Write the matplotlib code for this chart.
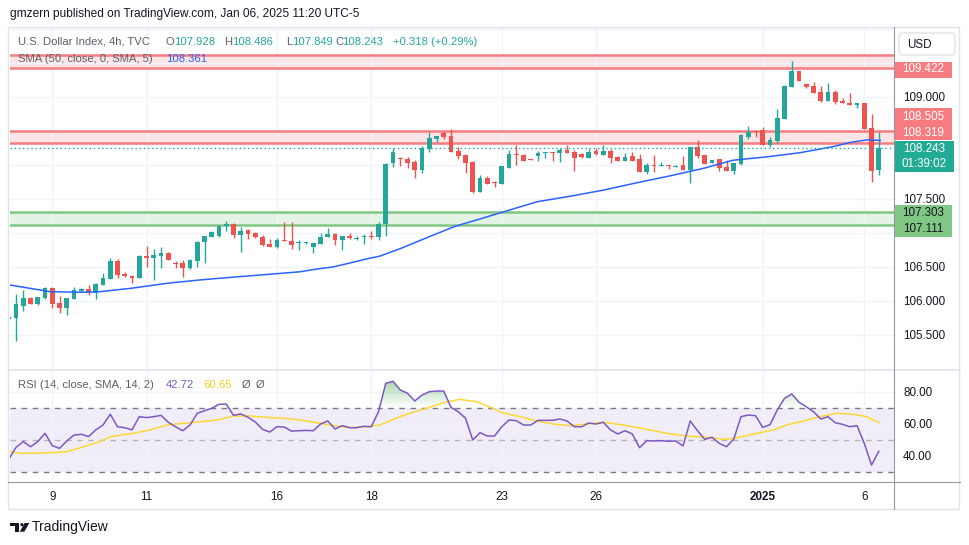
import numpy as np
import matplotlib.pyplot as plt
from matplotlib.patches import Rectangle, FancyBboxPatch, Polygon, Circle
from matplotlib.path import Path

plt.rcParams['font.family'] = ['Liberation Sans', 'DejaVu Sans']

TEAL = '#26A69A'
RED = '#EF5350'
GRID = '#F0F3FA'
TXT = '#131722'
GREY = '#5D606B'

# 4h candles, DXY, Dec 6 2024 -> Jan 6 2025
opens = [105.731, 105.754, 105.926, 106.049, 105.956, 106.044, 106.196, 105.971, 105.902, 106.034,
         106.152, 106.177, 106.122, 106.240, 106.328, 106.588, 106.397, 106.368, 106.338, 106.657,
         106.632, 106.662, 106.706, 106.563, 106.559, 106.485, 106.593, 106.868, 106.946, 106.956,
         107.099, 107.132, 106.975, 107.044, 107.005, 106.937, 106.834, 106.799, 106.897, 106.882,
         106.848, 106.848, 106.799, 106.843, 106.946, 106.985, 106.897, 106.956, 106.912, 106.946,
         106.960, 106.946, 107.128, 108.025, 108.103, 108.093, 108.044, 107.927, 108.240, 108.382,
         108.466, 108.426, 108.202, 108.152, 108.049, 107.607, 107.809, 107.740, 107.725, 107.960,
         108.166, 108.147, 108.088, 108.137, 108.181, 108.196, 108.181, 108.221, 108.191, 108.162,
         108.107, 108.202, 108.152, 108.206, 108.118, 108.059, 108.132, 108.084, 107.897, 108.000,
         107.990, 108.005, 107.971, 108.000, 107.927, 108.260, 108.143, 108.034, 108.084, 107.971,
         107.916, 108.015, 108.412, 108.496, 108.515, 108.299, 108.358, 108.681, 109.151, 109.382,
         109.191, 109.162, 109.074, 108.946, 109.074, 108.946, 108.916, 108.878, 108.916, 108.549,
         107.928]
highs = [105.794, 106.103, 106.162, 106.059, 106.063, 106.210, 106.210, 106.074, 106.044, 106.210,
         106.196, 106.231, 106.260, 106.412, 106.637, 106.618, 106.426, 106.387, 106.672, 106.809,
         106.760, 106.799, 106.721, 106.593, 106.603, 106.613, 106.882, 106.956, 107.029, 107.118,
         107.172, 107.142, 107.093, 107.063, 107.015, 106.971, 106.912, 106.922, 107.162, 107.162,
         106.897, 106.872, 106.853, 106.996, 107.078, 106.996, 106.956, 106.996, 106.956, 106.985,
         107.029, 107.157, 108.034, 108.254, 108.122, 108.122, 108.074, 108.284, 108.490, 108.426,
         108.505, 108.529, 108.260, 108.162, 108.059, 107.849, 107.838, 107.770, 107.985, 108.221,
         108.294, 108.157, 108.088, 108.206, 108.191, 108.196, 108.246, 108.294, 108.221, 108.176,
         108.231, 108.246, 108.294, 108.231, 108.132, 108.181, 108.196, 108.166, 108.025, 108.147,
         108.044, 108.005, 108.005, 108.132, 108.260, 108.368, 108.143, 108.074, 108.084, 108.074,
         108.034, 108.456, 108.574, 108.496, 108.554, 108.407, 108.824, 109.181, 109.529, 109.382,
         109.210, 109.225, 109.166, 109.201, 109.103, 108.981, 109.063, 108.916, 108.916, 108.750,
         108.486]
lows = [105.706, 105.412, 105.857, 105.960, 105.941, 106.025, 105.902, 105.828, 105.794, 106.034,
        106.137, 106.088, 106.029, 106.240, 106.328, 106.343, 106.357, 106.269, 106.338, 106.496,
        106.313, 106.490, 106.603, 106.490, 106.357, 106.475, 106.504, 106.554, 106.946, 106.946,
        107.034, 106.931, 106.725, 106.916, 106.927, 106.809, 106.799, 106.784, 106.887, 106.769,
        106.754, 106.834, 106.701, 106.843, 106.946, 106.824, 106.750, 106.907, 106.897, 106.834,
        106.907, 106.897, 106.956, 107.975, 107.985, 107.952, 107.813, 107.878, 108.196, 108.338,
        108.387, 108.196, 108.093, 107.887, 107.593, 107.607, 107.725, 107.681, 107.725, 107.960,
        108.000, 108.054, 108.069, 108.063, 108.107, 108.059, 108.044, 108.172, 107.912, 108.107,
        108.107, 108.152, 108.152, 108.034, 108.059, 108.059, 108.059, 107.897, 107.868, 107.902,
        107.990, 107.941, 107.971, 107.927, 107.740, 108.099, 108.019, 108.025, 107.912, 107.916,
        107.868, 108.000, 108.387, 108.416, 108.299, 108.269, 108.319, 108.681, 109.151, 109.240,
        109.137, 109.063, 108.926, 108.946, 108.897, 108.907, 108.878, 108.834, 108.529, 107.755,
        107.849]
closes = [105.769, 105.956, 106.044, 105.960, 106.054, 106.191, 105.960, 105.902, 106.044, 106.162,
          106.172, 106.118, 106.250, 106.338, 106.588, 106.382, 106.368, 106.343, 106.662, 106.632,
          106.676, 106.706, 106.607, 106.549, 106.490, 106.603, 106.868, 106.956, 107.010, 107.103,
          107.132, 106.975, 107.029, 106.985, 106.937, 106.824, 106.799, 106.897, 106.887, 106.828,
          106.857, 106.857, 106.853, 106.941, 106.990, 106.901, 106.956, 106.922, 106.927, 106.960,
          106.946, 107.132, 108.015, 108.187, 108.084, 108.025, 107.927, 108.250, 108.397, 108.426,
          108.416, 108.196, 108.137, 108.034, 107.603, 107.809, 107.725, 107.731, 107.985, 108.166,
          108.147, 108.059, 108.074, 108.181, 108.191, 108.181, 108.221, 108.172, 108.107, 108.122,
          108.191, 108.166, 108.206, 108.107, 108.059, 108.118, 108.059, 107.897, 108.000, 107.990,
          108.005, 107.990, 107.985, 107.927, 108.260, 108.137, 108.019, 108.074, 107.960, 107.916,
          108.034, 108.441, 108.490, 108.481, 108.299, 108.368, 108.691, 109.162, 109.382, 109.240,
          109.151, 109.063, 108.946, 109.074, 108.931, 108.907, 108.878, 108.916, 108.529, 107.916,
          108.243]

# SMA(50) (candle index, value)
sma_idx = [0.17, 5.7, 10.2, 12.6, 17.1, 21.8, 26.4, 30.9, 35.6, 40.2, 42.5, 44.7, 47.1, 49.4, 51.2,
           54.0, 58.1, 61.6, 64.5, 68.2, 72.9, 77.4, 82.0, 86.7, 91.2, 95.8, 99.9, 104.6, 109.1,
           113.7, 116.0, 118.4, 120.2]
sma_vals = [106.235, 106.137, 106.128, 106.137, 106.19, 106.26, 106.31, 106.35, 106.39, 106.43,
            106.47, 106.50, 106.56, 106.62, 106.66, 106.77, 106.95, 107.10, 107.19, 107.31, 107.46,
            107.54, 107.63, 107.74, 107.84, 107.95, 108.07, 108.12, 108.18, 108.27, 108.33, 108.37,
            108.361]

rsi = [37.7, 45.2, 48.8, 45.6, 48.8, 54.0, 46.3, 44.6, 49.2, 52.9,
       53.4, 51.9, 56.1, 59.2, 65.9, 58.1, 57.5, 56.1, 64.4, 63.8,
       64.4, 65.2, 60.9, 58.1, 55.6, 59.2, 66.5, 68.1, 69.6, 72.1,
       72.3, 65.2, 66.1, 64.0, 61.1, 56.5, 54.8, 58.1, 57.9, 55.4,
       55.6, 55.8, 55.6, 59.8, 61.7, 56.7, 58.8, 57.5, 57.5, 58.4,
       58.1, 67.5, 85.2, 86.5, 81.1, 79.0, 74.2, 77.9, 80.0, 80.4,
       80.4, 70.2, 67.5, 63.4, 49.8, 54.4, 52.3, 52.3, 58.1, 62.3,
       61.9, 59.2, 59.2, 62.1, 62.1, 62.1, 62.9, 61.7, 58.1, 58.1,
       60.4, 59.8, 60.9, 56.1, 53.6, 55.6, 53.6, 45.0, 49.4, 49.2,
       49.4, 49.0, 49.2, 46.1, 61.7, 55.6, 50.2, 51.5, 47.7, 45.6,
       50.4, 64.4, 65.4, 65.0, 57.7, 59.4, 68.6, 75.9, 78.6, 73.4,
       70.6, 67.5, 62.9, 64.4, 60.6, 59.6, 58.1, 58.8, 47.7, 34.2,
       42.72]

rsi_sma_idx = [0.17, 1.55, 3.4, 5.7, 8.0, 10.3, 12.6, 14.0, 17.2, 19.5, 21.8, 24.1, 26.4, 28.7,
               31.0, 33.3, 35.6, 37.9, 40.2, 42.5, 44.8, 47.1, 49.4, 51.2, 53.0, 55.3, 57.6, 59.9,
               62.2, 64.5, 66.8, 68.0, 70.5, 72.8, 75.1, 77.4, 79.7, 82.0, 84.8, 88.0, 90.7, 93.5,
               96.3, 99.0, 100.9, 103.2, 105.5, 107.3, 109.6, 111.9, 114.2, 116.5, 118.3, 120.0]
rsi_sma = [42.5, 41.5, 41.5, 41.9, 42.5, 45.6, 48.8, 51.9, 54.0, 56.1, 59.2, 60.2, 61.2, 62.3,
           64.8, 64.8, 64.0, 63.4, 62.3, 60.6, 58.8, 57.5, 58.1, 59.2, 62.7, 66.5, 69.6, 73.1,
           75.2, 73.8, 69.6, 66.9, 64.4, 61.7, 59.8, 58.8, 59.8, 60.9, 59.2, 56.5, 54.0, 52.3,
           51.5, 50.2, 51.5, 54.0, 56.1, 59.2, 61.7, 64.4, 66.5, 65.9, 64.4, 60.65]

res_top = (109.422, 109.62)
res_mid = (108.319, 108.505)
support = (107.111, 107.303)
last_price = 108.243

day_idx = [6, 19, 37, 50, 68, 81, 104, 118]
day_labels = ['9', '11', '16', '18', '23', '26', '2025', '6']

price_ticks = [105.5, 106.0, 106.5, 107.0, 107.5, 108.0, 108.5, 109.0, 109.5, 110.0]
price_shown = [105.5, 106.0, 106.5, 107.5, 109.0]

W, H = 970, 545
fig = plt.figure(figsize=(W / 100, H / 100), dpi=100)


def box(x0, y0, x1, y1):
    return [x0 / W, 1 - y1 / H, (x1 - x0) / W, (y1 - y0) / H]


xlim = (0.17, 122.1)

# ---- price pane
ax = fig.add_axes(box(10, 27, 894, 369))
o, h, l, c = map(np.array, (opens, highs, lows, closes))
idx = np.arange(len(o))
cols = np.where(c >= o, TEAL, RED)

ax.axhspan(*res_top, color='#F23645', alpha=0.13, lw=0, zorder=1)
ax.axhspan(*res_mid, color='#F23645', alpha=0.13, lw=0, zorder=1)
ax.axhspan(*support, color='#4CAF50', alpha=0.15, lw=0, zorder=1)
for lv in res_top + res_mid:
    ax.axhline(lv, color='#F77C80', lw=1.8, zorder=2)
for lv in support:
    ax.axhline(lv, color='#81C784', lw=1.8, zorder=2)

ax.vlines(idx, l, h, colors=cols, lw=1, zorder=3)
ax.bar(idx, np.maximum(np.abs(c - o), 0.016), bottom=np.minimum(o, c), width=0.68,
       color=cols, lw=0, zorder=4)
ax.plot(sma_idx, sma_vals, color='#2962FF', lw=1.1, zorder=5)
ax.axhline(last_price, color='#22AB94', lw=1, ls=(0, (1, 2)), zorder=6)

ax.set_xlim(*xlim)
ax.set_ylim(105.0, 110.029)
ax.yaxis.tick_right()
ax.set_yticks(price_ticks)
ax.set_yticklabels([f'{v:.3f}' if v in price_shown else '' for v in price_ticks])
ax.set_xticks(day_idx)
ax.tick_params(axis='x', labelbottom=False, length=0)
ax.tick_params(axis='y', length=0, pad=6.5, labelsize=8.4, labelcolor=TXT)
ax.grid(color=GRID, lw=1, zorder=0)
for s in ax.spines.values():
    s.set_visible(False)

# ---- RSI pane
rx = fig.add_axes(box(10, 369, 894, 482))
r = np.array(rsi)
rx.axhspan(30, 70, color='#7E57C2', alpha=0.1, lw=0, zorder=1)
for lv, a in ((70, 1), (30, 1), (50, 0.5)):
    rx.axhline(lv, color='#787B86', lw=1, alpha=a, ls=(0, (4, 4)), zorder=2)

fb = rx.fill_between(idx, 70, r, where=r >= 70, interpolate=True, facecolor='none', lw=0)
clip = Path.make_compound_path(*fb.get_paths())
grad = np.zeros((100, 1, 4))
grad[..., 0], grad[..., 1], grad[..., 2] = 76 / 255, 175 / 255, 80 / 255
grad[:, 0, 3] = np.linspace(0.55, 0.0, 100)
img = rx.imshow(grad, extent=[xlim[0], xlim[1], 70, 90], aspect='auto', origin='upper', zorder=2)
img.set_clip_path(clip, rx.transData)

rx.plot(idx, r, color='#7E57C2', lw=1.1, zorder=4)
rx.plot(rsi_sma_idx, rsi_sma, color='#FDD835', lw=1.1, zorder=3)
rx.set_xlim(*xlim)
rx.set_ylim(23.56, 94.19)
rx.yaxis.tick_right()
rx.set_yticks([40, 60, 80])
rx.set_yticklabels(['40.00', '60.00', '80.00'])
rx.set_xticks(day_idx)
rx.set_xticklabels(day_labels)
rx.get_xticklabels()[6].set_fontweight('bold')
rx.tick_params(axis='y', length=0, pad=6.5, labelsize=8.4, labelcolor=TXT)
rx.tick_params(axis='x', length=0, pad=6.5, labelsize=8.4, labelcolor=TXT)
rx.grid(color=GRID, lw=1, zorder=0)
for s in rx.spines.values():
    s.set_visible(False)

# ---- frame, labels and legends
ov = fig.add_axes([0, 0, 1, 1], zorder=10)
ov.set_xlim(0, W)
ov.set_ylim(H, 0)
ov.axis('off')

ov.add_patch(Rectangle((8.5, 27), 951, 482, fill=False, ec='#E0E3EB', lw=1))
ov.plot([10, 960], [369.5, 369.5], color='#E0E3EB', lw=1.2)
ov.plot([894, 894], [27, 509], color='#9598A1', lw=0.8)
ov.plot([8.5, 960], [482, 482], color='#9598A1', lw=0.8)

ov.text(10, 14, 'gmzern published on TradingView.com, Jan 06, 2025 11:20 UTC-5',
        fontsize=8.6, color=TXT, va='center')

# main legend
lg = dict(fontsize=8.1, va='center')
ov.text(18, 42, 'U.S. Dollar Index, 4h, TVC', color=GREY, **lg)
for lx, letter, val in ((166, 'O', opens[-1]), (224, 'H', highs[-1]),
                        (286, 'L', lows[-1]), (335, 'C', closes[-1])):
    ov.text(lx, 42, letter, color=GREY, **lg)
    ov.text(lx + {'O': 8, 'H': 8, 'L': 6, 'C': 7}[letter], 42, f'{val:.3f}', color=TEAL, **lg)
ov.text(393, 42, '+0.318 (+0.29%)', color=TEAL, **lg)
ov.text(18, 59, 'SMA (50, close, 0, SMA, 5)', color=GREY, **lg)
ov.text(166, 59, f'{sma_vals[-1]:.3f}', color='#2962FF', **lg)

ov.text(18, 385.5, 'RSI (14, close, SMA, 14, 2)', color=GREY, **lg)
ov.text(166, 385.5, f'{rsi[-1]:.2f}', color='#7E57C2', **lg)
ov.text(203, 385.5, f'{rsi_sma[-1]:.2f}', color='#F2D21B', **lg)
ov.text(242, 385.5, 'Ø', color=GREY, **lg)
ov.text(256, 385.5, 'Ø', color=GREY, **lg)

# USD button
ov.add_patch(FancyBboxPatch((899, 33), 56, 22, boxstyle='round,pad=0,rounding_size=4',
                            fc='white', ec='#E0E3EB', lw=1))
ov.text(907, 44.5, 'USD', fontsize=8.4, color=TXT, va='center')

# price labels on the scale
lbl = dict(fontsize=8.4, ha='center', va='center')
ov.add_patch(Rectangle((895, 61.5), 57, 16, fc='#F77C80', lw=0))
ov.text(923.5, 69.5, f'{res_top[0]:.3f}', color='white', **lbl)
ov.add_patch(Rectangle((895, 107.5), 57, 32.5, fc='#F77C80', lw=0))
ov.text(923.5, 116.5, f'{res_mid[1]:.3f}', color='white', **lbl)
ov.text(923.5, 132.5, f'{res_mid[0]:.3f}', color='white', **lbl)
ov.add_patch(Rectangle((895, 141), 59, 30.5, fc='#22AB94', lw=0))
ov.text(924.5, 149.5, f'{last_price:.3f}', color='white', **lbl)
ov.text(924.5, 164, '01:39:02', color='white', **lbl)
ov.add_patch(Rectangle((895, 205), 57, 31.5, fc='#81C784', lw=0))
ov.text(923.5, 213.5, f'{support[1]:.3f}', color=TXT, **lbl)
ov.text(923.5, 229.5, f'{support[0]:.3f}', color=TXT, **lbl)

# TradingView logo
ov.add_patch(Polygon([(10, 523), (19.3, 523), (19.3, 531.7), (15, 531.7), (15, 526.3), (10, 526.3)],
                     fc=TXT, lw=0))
ov.add_patch(Circle((21.9, 524.7), 1.6, fc=TXT, lw=0))
ov.add_patch(Polygon([(24.6, 523), (29.3, 523), (24.3, 531.7), (19.8, 531.7)], fc=TXT, lw=0))
ov.text(32, 527, 'TradingView', fontsize=10, color=TXT, va='center')

fig.savefig('out.png', dpi=100)
